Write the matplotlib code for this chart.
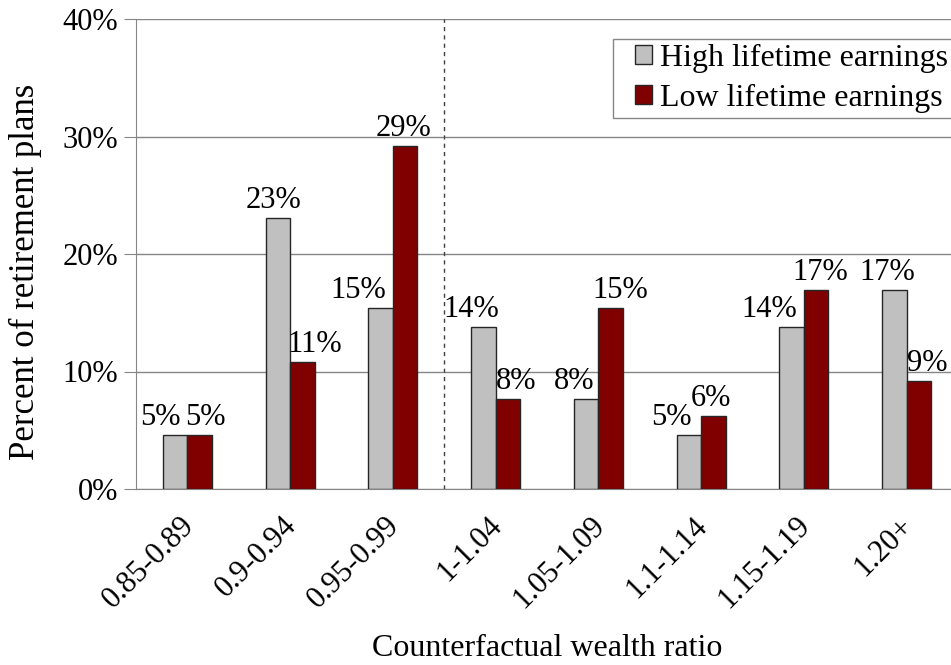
import numpy as np
import matplotlib.pyplot as plt
import matplotlib.transforms as mtransforms
from matplotlib.patches import Rectangle

plt.rcParams['font.family'] = ['Liberation Serif', 'DejaVu Serif']

categorie = ['0.85-0.89', '0.9-0.94', '0.95-0.99', '1-1.04', '1.05-1.09', '1.1-1.14', '1.15-1.19', '1.20+']
alto = [4.6, 23.1, 15.4, 13.8, 7.7, 4.6, 13.8, 16.9]  # High lifetime earnings
basso = [4.6, 10.8, 29.2, 7.7, 15.4, 6.2, 16.9, 9.2]  # Low lifetime earnings
etich_alto = ['5%', '23%', '15%', '14%', '8%', '5%', '14%', '17%']
etich_basso = ['5%', '11%', '29%', '8%', '15%', '6%', '17%', '9%']

# spostamento orizzontale delle etichette (pixel), come in Excel
dx_alto = [-15, -4, -22, -12, -12, -18, -22, -7]
dx_basso = [6, 12, -2, 8, 10, -2, 4, 8]

fs = 22
grigio = '#868686'

fig = plt.figure(figsize=(9.51, 6.65), dpi=100)
ax = fig.add_axes([136/951, 1-489/665, (958-136)/951, (489-19)/665])

x = np.arange(len(categorie))
w = 0.238
ax.bar(x - w/2, alto, w, color='#c0c0c0', edgecolor='#262626', linewidth=1, label='High lifetime earnings', zorder=3)
ax.bar(x + w/2, basso, w, color='#800000', edgecolor='#262626', linewidth=1, label='Low lifetime earnings', zorder=3)

px = 72/100  # pixel -> punti
for xi, v, t, d in zip(x, alto, etich_alto, dx_alto):
    ax.annotate(t, (xi - w/2, v), xytext=(d*px, 3*px), textcoords='offset points',
                ha='center', va='bottom', fontsize=fs)
for xi, v, t, d in zip(x, basso, etich_basso, dx_basso):
    ax.annotate(t, (xi + w/2, v), xytext=(d*px, 3*px), textcoords='offset points',
                ha='center', va='bottom', fontsize=fs)

ax.axvline(2.5, color='#404040', linestyle=(0, (3, 3)), linewidth=1, zorder=2)

ax.set_xlim(-0.5, len(categorie) - 0.5)
ax.set_ylim(0, 40)
ax.set_yticks([0, 10, 20, 30, 40])
ax.set_yticklabels(['0%', '10%', '20%', '30%', '40%'], fontsize=fs)
ax.yaxis.grid(True, color=grigio, linewidth=1, zorder=0)
ax.set_xticks(x)
ax.set_xticklabels(categorie, fontsize=fs, rotation=45, ha='right', rotation_mode='anchor')
ax.tick_params(axis='x', length=0, pad=16)
ax.tick_params(axis='y', length=9, color=grigio, pad=4)
sposta = mtransforms.ScaledTranslation(-8/100, 0, fig.dpi_scale_trans)
for lab in ax.get_xticklabels():
    lab.set_transform(lab.get_transform() + sposta)

for s in ['top', 'right']:
    ax.spines[s].set_visible(False)
ax.spines['left'].set_color(grigio)
ax.spines['bottom'].set_color(grigio)

ax.set_xlabel('Counterfactual wealth ratio', fontsize=23)
ax.set_ylabel('Percent of retirement plans', fontsize=25)
ax.xaxis.set_label_coords((547-136)/822, -(648-489)/470)
ax.yaxis.set_label_coords(-(136-25)/822, (489-272)/470)
ax.xaxis.label.set_va('center')
ax.yaxis.label.set_va('center')

# riquadro della legenda
ax.add_patch(Rectangle(((613-136)/822, (489-118)/470), (970-613)/822, 79/470, transform=ax.transAxes,
                       facecolor='white', edgecolor=grigio, linewidth=1, clip_on=False, zorder=4))
leg = ax.legend(loc='upper left', bbox_to_anchor=((635-136)/822, 1-(44-19)/470), fontsize=23, frameon=False,
                handlelength=0.53, handleheight=0.53, handletextpad=0.25,
                borderpad=0, labelspacing=0.34, borderaxespad=0)
leg.set_zorder(5)

fig.savefig('out.png', dpi=100)
